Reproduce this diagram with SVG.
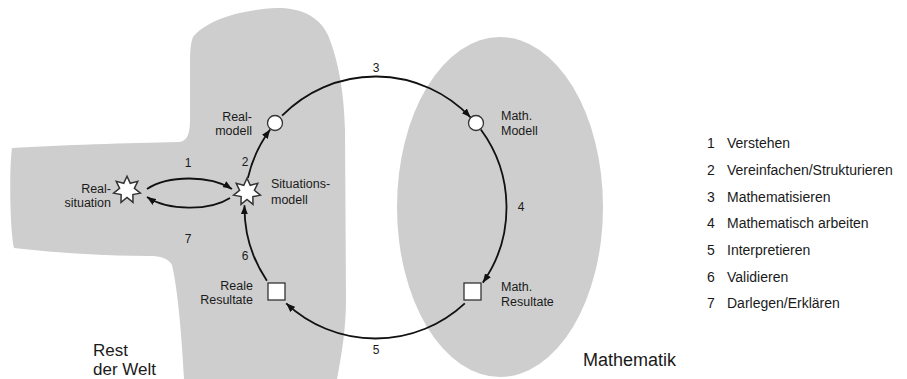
<svg xmlns="http://www.w3.org/2000/svg" width="907" height="379" viewBox="0 0 907 379">
<style>
.region{fill:#cecece;stroke:none}
.lbl{font-family:"Liberation Sans",Arial,sans-serif;font-size:12.5px;fill:#1a1a1a}
.num{font-family:"Liberation Sans",Arial,sans-serif;font-size:12px;fill:#1a1a1a;text-anchor:middle}
.leg{font-family:"Liberation Sans",Arial,sans-serif;font-size:14px;fill:#1a1a1a}
.big{font-family:"Liberation Sans",Arial,sans-serif;font-size:17px;fill:#1a1a1a}
.r{text-anchor:end}
.con{fill:none;stroke:#111;stroke-width:1.8;marker-end:url(#ah)}
.node{fill:#fff;stroke:#333;stroke-width:1.3}
.starnode{fill:#fff;stroke:#333;stroke-width:1.2;vector-effect:non-scaling-stroke}
</style>
<defs>
<marker id="ah" markerUnits="userSpaceOnUse" markerWidth="10" markerHeight="8" refX="9" refY="4" orient="auto">
<path d="M0,0.5 L9,4 L0,7.5 z" fill="#111"/>
</marker>
<polygon id="star" points="0,-11 2.6,-5.4 8.6,-6.9 5.9,-1.3 10.7,2.5 4.7,3.7 4.8,9.9 0,6 -4.8,9.9 -4.7,3.7 -10.7,2.5 -5.9,-1.3 -8.6,-6.9 -2.6,-5.4"/>
</defs>
<rect width="907" height="379" fill="#fff"/>
<g id="regions">
<path class="region" d="M193,37 C205,22 235,10 277,8 C300,8 318,15 328,35 C338,60 344,90 345,130 L346,300 C346,330 341,358 337,379 L184,379 C182,340 178,290 172,265 C168,258 160,256 150,256 C100,256 50,252 14,248 C10,230 9,170 12,148 C60,145 130,143 178,142 C186,142 190,136 190,120 L190,60 C190,50 191,42 193,37 Z"/>
<ellipse class="region" cx="500" cy="207" rx="103" ry="170"/>
</g>
<g id="connectors">
<path id="c1" class="con" d="M147,189 C168,175 210,175 232,189"/>
<path id="c7" class="con" d="M230,198 C210,211 168,211 147,197"/>
<path id="c2" class="con" d="M247.86,178.03 A131,131 0 0 1 270.19,129.58"/>
<path id="c3" class="con" d="M282.06,115.68 A131,131 0 0 1 470.52,117.33"/>
<path id="c4" class="con" d="M480.81,129.58 A131,131 0 0 1 482.81,282.64"/>
<path id="c5" class="con" d="M464.84,303.31 A131,131 0 0 1 286.16,303.31"/>
<path id="c6" class="con" d="M266.90,280.75 A131,131 0 0 1 244.52,205.2"/>
<text class="num" x="188" y="167">1</text>
<text class="num" x="245" y="166">2</text>
<text class="num" x="376" y="72">3</text>
<text class="num" x="521" y="211">4</text>
<text class="num" x="376" y="354">5</text>
<text class="num" x="245" y="260">6</text>
<text class="num" x="188" y="243">7</text>
</g>
<g id="realsituation">
<use href="#star" class="starnode" transform="translate(127,190) scale(1.25)"/>
<text class="lbl r" x="111" y="193">Real-</text>
<text class="lbl r" x="111" y="207">situation</text>
</g>
<g id="situationsmodell">
<use href="#star" class="starnode" transform="translate(247,192) scale(1.25)"/>
<text class="lbl" x="271" y="188">Situations-</text>
<text class="lbl" x="271" y="204">modell</text>
</g>
<g id="realmodell">
<circle class="node" cx="275" cy="123" r="7.5"/>
<text class="lbl r" x="252" y="121">Real-</text>
<text class="lbl r" x="252" y="135">modell</text>
</g>
<g id="mathmodell">
<circle class="node" cx="476" cy="123" r="7.5"/>
<text class="lbl" x="501" y="120">Math.</text>
<text class="lbl" x="501" y="135">Modell</text>
</g>
<g id="mathresultate">
<rect class="node" x="464" y="283" width="17" height="17"/>
<text class="lbl" x="501" y="291">Math.</text>
<text class="lbl" x="501" y="306">Resultate</text>
</g>
<g id="realeresultate">
<rect class="node" x="268" y="283" width="17" height="17"/>
<text class="lbl r" x="253" y="290">Reale</text>
<text class="lbl r" x="253" y="304">Resultate</text>
</g>
<g id="area-labels">
<text class="big" x="93" y="356">Rest</text>
<text class="big" x="93" y="375">der Welt</text>
<text class="big" x="583" y="366" style="font-size:18px">Mathematik</text>
</g>
<g id="legend" class="leg">
<text x="707" y="148">1</text><text x="727" y="148">Verstehen</text>
<text x="707" y="175">2</text><text x="727" y="175">Vereinfachen/Strukturieren</text>
<text x="707" y="201.5">3</text><text x="727" y="201.5">Mathematisieren</text>
<text x="707" y="228">4</text><text x="727" y="228">Mathematisch arbeiten</text>
<text x="707" y="255">5</text><text x="727" y="255">Interpretieren</text>
<text x="707" y="281.5">6</text><text x="727" y="281.5">Validieren</text>
<text x="707" y="307.5">7</text><text x="727" y="307.5">Darlegen/Erklären</text>
</g>
</svg>
